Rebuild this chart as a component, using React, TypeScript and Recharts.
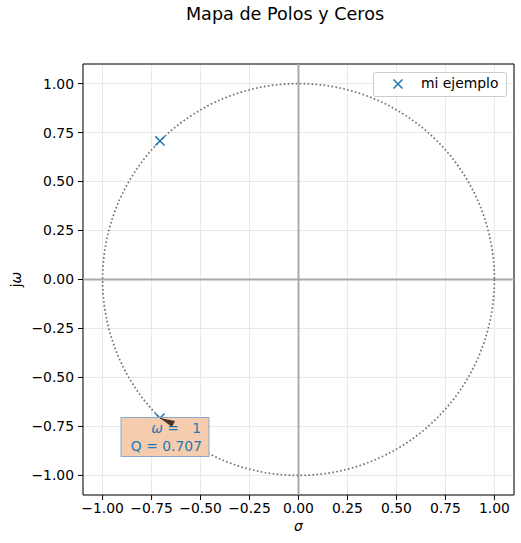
import {
  CartesianGrid,
  Legend,
  ReferenceArea,
  ReferenceDot,
  ReferenceLine,
  Scatter,
  ScatterChart,
  XAxis,
  YAxis,
} from "recharts";

const poleRe = [-0.707, -0.707];
const poleIm = [0.707, -0.707];
const axisTicks = [-1, -0.75, -0.5, -0.25, 0, 0.25, 0.5, 0.75, 1];
const xDomain = [-1.1, 1.1];
const yDomain = [-1.1, 1.1];
const unitRadius = 1;
const omegaLabel = "1";
const qLabel = "0.707";
const seriesName = "mi ejemplo";

const FONT = "DejaVu Sans, Verdana, sans-serif";
const C0 = "#1f77b4";

const poles = poleRe.map((re, i) => ({ x: re, y: poleIm[i] }));

const fmt = (v: number) => (v < 0 ? "\u2212" : "") + Math.abs(v).toFixed(2);

const xMark = (props: any) => {
  const { cx, cy } = props;
  if (cx == null || cy == null) return null;
  const s = 4.6;
  return (
    <path
      d={`M${cx - s},${cy - s}L${cx + s},${cy + s}M${cx - s},${cy + s}L${cx + s},${cy - s}`}
      stroke={C0}
      strokeWidth={1.5}
      fill="none"
    />
  );
};

// unit circle inscribed in the box spanned by the segment ends
const circleShape = (p: any) => {
  if (p.x1 == null || p.x2 == null) return null;
  return (
    <ellipse
      cx={(p.x1 + p.x2) / 2}
      cy={(p.y1 + p.y2) / 2}
      rx={Math.abs(p.x2 - p.x1) / 2}
      ry={Math.abs(p.y2 - p.y1) / 2}
      fill="none"
      stroke="#707070"
      strokeWidth={1.7}
      strokeDasharray="1.6 2.4"
    />
  );
};

const annotation = (p: any) => {
  const { cx, cy } = p;
  if (cx == null || cy == null) return null;
  return (
    <g fontFamily={FONT} fontSize={13.9}>
      <rect x={cx - 39} y={cy - 0.5} width={88} height={39} fill="#f5cdae" stroke="#8aabcb" strokeWidth={1} />
      <line x1={cx + 12} y1={cy + 6} x2={cx} y2={cy} stroke="#3b2a20" strokeWidth={1} />
      <polygon points={`${cx},${cy} ${cx + 15},${cy + 3} ${cx + 12},${cy + 9}`} fill="#4a3426" />
      <text x={cx + 41} y={cy + 15} textAnchor="end" fill={C0} style={{ whiteSpace: "pre" }}>
        <tspan fontStyle="italic">ω</tspan>
        <tspan>{"\u00a0=\u00a0\u00a0\u00a0" + omegaLabel}</tspan>
      </text>
      <text x={cx + 42} y={cy + 33} textAnchor="end" fill={C0}>
        Q = {qLabel}
      </text>
    </g>
  );
};

const legendBox = () => (
  <div
    style={{
      width: 132,
      height: 23,
      border: "1px solid #cccccc",
      borderRadius: 3,
      background: "rgba(255,255,255,0.8)",
      position: "relative",
      fontFamily: FONT,
      fontSize: 13.9,
    }}
  >
    <svg width={40} height={23} style={{ position: "absolute", left: 0, top: 0 }}>
      <path d="M19.5,6.5L28.5,15.5M19.5,15.5L28.5,6.5" stroke={C0} strokeWidth={1.5} />
    </svg>
    <span style={{ position: "absolute", left: 47, top: 2, color: "#000", whiteSpace: "nowrap" }}>
      {seriesName}
    </span>
  </div>
);

export default function App() {
  const tick = { fill: "#000", fontSize: 13.9, fontFamily: FONT };
  return (
    <div style={{ position: "absolute", left: 0, top: 0, width: 521, height: 543, background: "#fff" }}>
      <div
        style={{
          position: "absolute",
          top: 4,
          left: 0,
          width: 570,
          textAlign: "center",
          fontFamily: FONT,
          fontSize: 17.6,
          color: "#000",
        }}
      >
        Mapa de Polos y Ceros
      </div>
      <ScatterChart width={521} height={543} margin={{ top: 64, right: 7, bottom: 0, left: 0 }}>
        <CartesianGrid stroke="#e8e8e8" strokeWidth={1} />
        <XAxis
          type="number"
          dataKey="x"
          domain={xDomain}
          ticks={axisTicks}
          tickFormatter={fmt}
          allowDataOverflow
          height={48}
          axisLine={false}
          tickSize={5}
          tickMargin={3}
          tickLine={{ stroke: "#000" }}
          tick={tick}
          label={{
            content: (p: any) => {
              const vb = p.viewBox || {};
              return (
                <text
                  x={vb.x + vb.width / 2}
                  y={vb.y + 36}
                  textAnchor="middle"
                  fontFamily={FONT}
                  fontSize={13.9}
                  fontStyle="italic"
                  fill="#000"
                >
                  σ
                </text>
              );
            },
          }}
        />
        <YAxis
          type="number"
          dataKey="y"
          domain={yDomain}
          ticks={axisTicks}
          tickFormatter={fmt}
          allowDataOverflow
          width={83}
          axisLine={false}
          tickSize={5}
          tickMargin={4}
          tickLine={{ stroke: "#000" }}
          tick={tick}
          label={{
            content: (p: any) => {
              const vb = p.viewBox || {};
              const x = vb.x + 21;
              const y = vb.y + vb.height / 2;
              return (
                <text
                  x={x}
                  y={y}
                  transform={`rotate(-90 ${x} ${y})`}
                  textAnchor="middle"
                  fontFamily={FONT}
                  fontSize={13.9}
                  fill="#000"
                >
                  j<tspan fontStyle="italic">ω</tspan>
                </text>
              );
            },
          }}
        />
        <ReferenceLine x={0} stroke="#aaaaaa" strokeWidth={2} />
        <ReferenceLine y={0} stroke="#aaaaaa" strokeWidth={2} />
        <ReferenceLine
          segment={[
            { x: -unitRadius, y: -unitRadius },
            { x: unitRadius, y: unitRadius },
          ]}
          shape={circleShape}
        />
        <Scatter name={seriesName} data={poles} shape={xMark} isAnimationActive={false} />
        <ReferenceDot x={poles[1].x} y={poles[1].y} shape={annotation} />
        <ReferenceArea
          x1={xDomain[0]}
          x2={xDomain[1]}
          y1={yDomain[0]}
          y2={yDomain[1]}
          fill="none"
          fillOpacity={0}
          stroke="#000"
          strokeWidth={1}
        />
        <Legend
          layout="vertical"
          align="center"
          verticalAlign="middle"
          content={legendBox}
          wrapperStyle={{ top: 72, left: 373, width: 134, height: 25 }}
        />
      </ScatterChart>
    </div>
  );
}
